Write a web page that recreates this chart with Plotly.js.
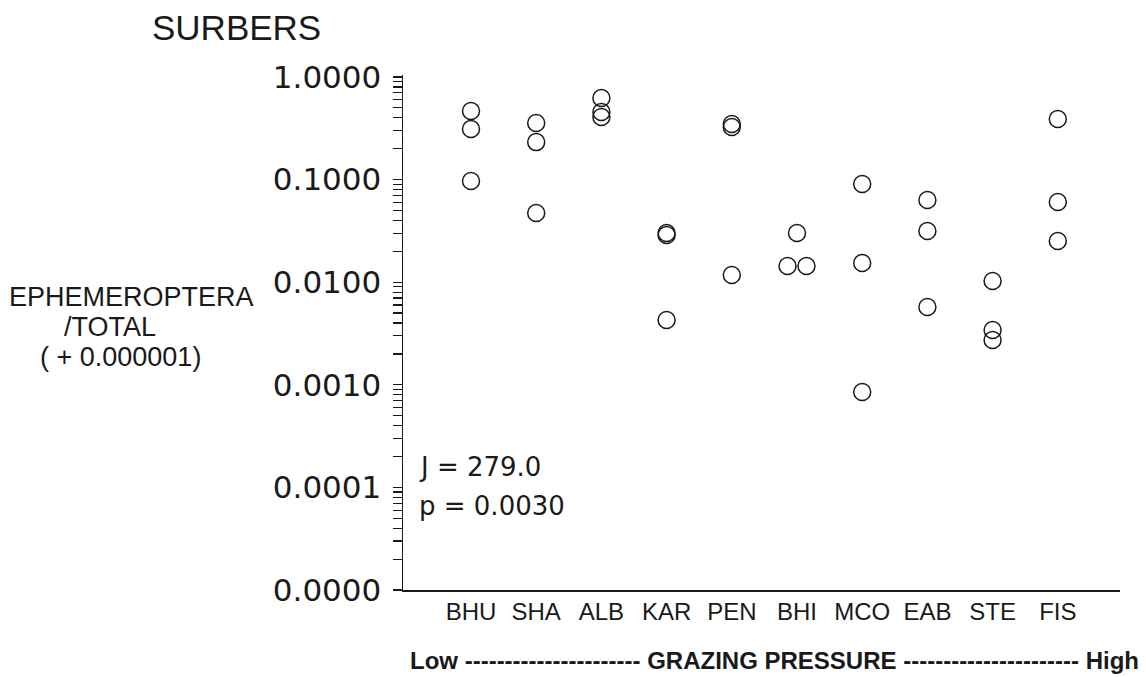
<!DOCTYPE html>
<html>
<head>
<meta charset="utf-8">
<script src="https://cdn.plot.ly/plotly-3.0.1.min.js"></script>
<style>
html,body{margin:0;padding:0;background:#fff;}
#chart{width:1146px;height:677px;}
</style>
</head>
<body>
<div id="chart"></div>
<script>
// ---- data ----
const sites = ['BHU','SHA','ALB','KAR','PEN','BHI','MCO','EAB','STE','FIS'];
const BHU = [0.466, 0.311, 0.0969];
const SHA = [0.356, 0.232, 0.0472];
const ALB = [0.624, 0.456, 0.407];
const KAR = [0.0302, 0.0288, 0.00428];
const PEN = [0.348, 0.326, 0.01175];
const BHI = [0.0302, 0.0144, 0.0144];
const MCO = [0.0906, 0.0154, 0.000851];
const EAB = [0.0633, 0.0316, 0.00573];
const STE = [0.01027, 0.00342, 0.00273];
const FIS = [0.390, 0.0605, 0.0252];
const yTickVals = [1, 0.1, 0.01, 0.001, 0.0001, 0.00001];
const yTickText = ['1.0000','0.1000','0.0100','0.0010','0.0001','0.0000'];
const statJ = 'J = 279.0';
const statP = 'p = 0.0030';

// ---- build ----
const valuesBySite = [BHU, SHA, ALB, KAR, PEN, BHI, MCO, EAB, STE, FIS];
// side-by-side placement of tied points (BHI)
const tieShift = {5: [0, -0.145, 0.145]};
const xs = [], ys = [];
valuesBySite.forEach((vals, i) => {
  vals.forEach((v, j) => {
    const sh = tieShift[i] ? tieShift[i][j] : 0;
    xs.push(i + sh);
    ys.push(v);
  });
});

const minorVals = [];
for (let e = -5; e < 0; e++) {
  for (let d = 2; d <= 9; d++) minorVals.push(d * Math.pow(10, e));
}

const W = 1146, H = 677;
const mL = 403, mR = 26, mT = 75, mB = 87;
const pw = W - mL - mR, ph = H - mT - mB;
const px2x = p => (p - mL) / pw;
const py2y = p => (H - mB - p) / ph;

const ink = '#1a1a1a';
const sans = 'Liberation Sans, Arial, sans-serif';
const wide = 'DejaVu Sans, sans-serif';

const trace = {
  x: xs, y: ys, type: 'scatter', mode: 'markers',
  marker: {symbol: 'circle-open', size: 17, color: ink, line: {width: 1.5, color: ink}},
  hoverinfo: 'skip', showlegend: false
};

const layout = {
  width: W, height: H,
  margin: {l: mL, r: mR, t: mT, b: mB, pad: 0},
  paper_bgcolor: '#fff', plot_bgcolor: '#fff',
  showlegend: false,
  title: {text: 'SURBERS', xref: 'container', yref: 'container',
          x: 152 / W, xanchor: 'left', y: 1 - 28 / H, yanchor: 'middle',
          font: {family: sans, size: 35, color: ink}},
  xaxis: {
    range: [-1.043, 9.954], tickmode: 'array',
    tickvals: sites.map((s, i) => i), ticktext: sites,
    showline: true, linecolor: ink, linewidth: 1.5,
    showgrid: false, zeroline: false, ticks: '', ticklabelstandoff: 0,
    tickfont: {family: sans, size: 24, color: ink},
    fixedrange: true
  },
  yaxis: {
    type: 'log', range: [-5, 0.0195], tickmode: 'array',
    tickvals: yTickVals, ticktext: yTickText,
    showline: true, linecolor: ink, linewidth: 1.5,
    showgrid: false, zeroline: false,
    ticks: 'outside', ticklen: 9, tickwidth: 1.2, tickcolor: ink,
    ticklabelstandoff: 5,
    minor: {tickmode: 'array', tickvals: minorVals, ticks: 'outside', ticklen: 9, tickwidth: 1.2, tickcolor: ink, showgrid: false},
    tickfont: {family: wide, size: 31, color: ink},
    fixedrange: true
  },
  annotations: [
    {text: 'EPHEMEROPTERA', xref: 'paper', yref: 'paper', x: px2x(131), y: py2y(297),
     xanchor: 'center', yanchor: 'middle', showarrow: false, font: {family: sans, size: 27, color: ink}},
    {text: '/TOTAL', xref: 'paper', yref: 'paper', x: px2x(110), y: py2y(327),
     xanchor: 'center', yanchor: 'middle', showarrow: false, font: {family: sans, size: 27, color: ink}},
    {text: '( + 0.000001)', xref: 'paper', yref: 'paper', x: px2x(120), y: py2y(357),
     xanchor: 'center', yanchor: 'middle', showarrow: false, font: {family: sans, size: 27, color: ink}},
    {text: statJ, xref: 'paper', yref: 'paper', x: px2x(417), y: py2y(467),
     xanchor: 'left', yanchor: 'middle', showarrow: false, font: {family: wide, size: 26, color: ink}},
    {text: statP, xref: 'paper', yref: 'paper', x: px2x(417), y: py2y(506),
     xanchor: 'left', yanchor: 'middle', showarrow: false, font: {family: wide, size: 26, color: ink}},
    {text: '<b>Low ---------------------- GRAZING PRESSURE ---------------------- High</b>',
     xref: 'paper', yref: 'paper', x: px2x(774), y: py2y(660),
     xanchor: 'center', yanchor: 'middle', showarrow: false, font: {family: sans, size: 24, color: ink}}
  ]
};

Plotly.newPlot('chart', [trace], layout, {staticPlot: true, displayModeBar: false});
</script>
</body>
</html>
